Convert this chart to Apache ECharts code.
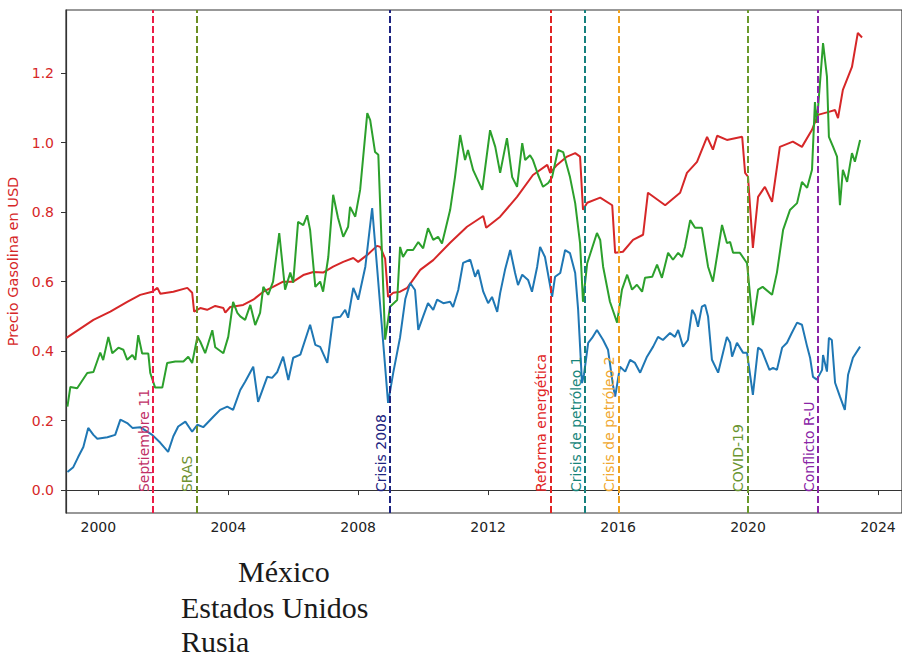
<!DOCTYPE html>
<html>
<head>
<meta charset="utf-8">
<script src="https://cdn.jsdelivr.net/npm/echarts@6/dist/echarts.min.js"></script>
<style>
  html, body { margin: 0; padding: 0; background: #ffffff; }
  #chart { width: 902px; height: 658px; }
</style>
</head>
<body>
<div id="chart"></div>
<script>
// ---------- DATA ----------
const seriesNames = ['México', 'Estados Unidos', 'Rusia'];

const mexico = [[1999.02,.438],[1999.85,.490],[2000.37,.514],[2000.89,.542],[2001.29,.562],[2001.66,.571],[2001.82,.582],[2001.91,.565],[2002.31,.571],[2002.74,.582],[2002.89,.568],[2002.95,.514],[2003.14,.524],[2003.35,.519],[2003.60,.530],[2003.85,.524],[2003.91,.511],[2004.06,.527],[2004.46,.533],[2004.77,.548],[2005.08,.571],[2005.38,.585],[2005.69,.600],[2006.00,.600],[2006.31,.619],[2006.62,.628],[2006.92,.626],[2007.23,.643],[2007.54,.657],[2007.85,.668],[2008.00,.657],[2008.28,.677],[2008.58,.703],[2008.68,.700],[2008.83,.666],[2008.92,.556],[2009.08,.568],[2009.29,.571],[2009.51,.582],[2009.91,.634],[2010.31,.662],[2010.83,.712],[2011.35,.758],[2011.85,.789],[2011.94,.755],[2012.37,.787],[2012.89,.844],[2013.38,.907],[2013.82,.936],[2013.91,.913],[2014.12,.936],[2014.43,.960],[2014.68,.970],[2014.83,.960],[2014.92,.807],[2015.05,.827],[2015.45,.842],[2015.82,.820],[2015.91,.683],[2016.15,.686],[2016.46,.720],[2016.77,.735],[2016.92,.856],[2017.45,.820],[2017.91,.856],[2018.12,.913],[2018.43,.945],[2018.74,1.017],[2018.92,.980],[2019.05,1.020],[2019.35,1.008],[2019.82,1.017],[2019.91,.913],[2020.00,.902],[2020.15,.697],[2020.31,.844],[2020.52,.873],[2020.74,.830],[2020.98,.988],[2021.38,1.003],[2021.66,.988],[2021.97,1.037],[2022.15,1.080],[2022.46,1.088],[2022.68,1.094],[2022.77,1.071],[2022.92,1.152],[2023.20,1.218],[2023.38,1.316],[2023.51,1.303]];

const estadosUnidos = [[1999.05,.240],[1999.14,.297],[1999.35,.293],[1999.66,.337],[1999.85,.340],[2000.06,.396],[2000.15,.374],[2000.31,.441],[2000.43,.394],[2000.62,.410],[2000.77,.404],[2000.89,.375],[2001.05,.389],[2001.14,.375],[2001.23,.446],[2001.35,.393],[2001.54,.393],[2001.60,.337],[2001.75,.295],[2001.97,.295],[2002.12,.366],[2002.37,.370],[2002.62,.370],[2002.77,.384],[2002.89,.366],[2003.05,.441],[2003.14,.427],[2003.29,.394],[2003.51,.460],[2003.60,.411],[2003.85,.394],[2004.00,.441],[2004.15,.542],[2004.28,.510],[2004.37,.500],[2004.52,.490],[2004.68,.533],[2004.83,.475],[2004.98,.510],[2005.08,.585],[2005.23,.562],[2005.38,.600],[2005.57,.740],[2005.75,.577],[2005.91,.626],[2006.00,.597],[2006.15,.772],[2006.31,.763],[2006.43,.791],[2006.52,.749],[2006.68,.585],[2006.83,.600],[2006.92,.571],[2007.08,.671],[2007.23,.850],[2007.38,.783],[2007.54,.729],[2007.69,.758],[2007.75,.815],[2007.91,.787],[2008.06,.864],[2008.28,1.085],[2008.37,1.065],[2008.52,.973],[2008.62,.965],[2008.83,.433],[2008.98,.528],[2009.20,.547],[2009.29,.700],[2009.38,.671],[2009.51,.691],[2009.69,.691],[2009.85,.714],[2010.00,.696],[2010.15,.754],[2010.31,.720],[2010.46,.729],[2010.58,.710],[2010.68,.748],[2010.83,.806],[2010.98,.901],[2011.14,1.022],[2011.29,.950],[2011.38,.979],[2011.54,.921],[2011.82,.864],[2012.06,1.036],[2012.22,.988],[2012.37,.913],[2012.58,1.013],[2012.74,.901],[2012.89,.873],[2013.05,.999],[2013.14,.950],[2013.29,.964],[2013.38,.950],[2013.54,.907],[2013.69,.873],[2013.85,.884],[2013.97,.901],[2014.15,.979],[2014.31,.973],[2014.52,.901],[2014.68,.826],[2014.83,.711],[2014.92,.542],[2015.05,.653],[2015.35,.740],[2015.45,.720],[2015.54,.643],[2015.75,.542],[2015.97,.482],[2016.12,.577],[2016.28,.620],[2016.43,.577],[2016.58,.591],[2016.74,.571],[2016.83,.611],[2017.05,.614],[2017.20,.649],[2017.35,.611],[2017.54,.683],[2017.69,.663],[2017.85,.683],[2017.97,.671],[2018.06,.700],[2018.22,.777],[2018.37,.755],[2018.58,.755],[2018.77,.643],[2018.92,.600],[2019.20,.763],[2019.35,.711],[2019.45,.714],[2019.54,.683],[2019.75,.683],[2019.97,.653],[2020.15,.475],[2020.31,.577],[2020.45,.585],[2020.74,.562],[2020.89,.626],[2021.08,.749],[2021.29,.806],[2021.51,.826],[2021.66,.887],[2021.82,.870],[2021.97,.922],[2022.06,1.117],[2022.12,1.057],[2022.31,1.287],[2022.43,1.190],[2022.49,1.017],[2022.62,.988],[2022.74,.960],[2022.83,.820],[2022.92,.922],[2023.05,.887],[2023.20,.970],[2023.29,.945],[2023.45,1.008]];

const rusia = [[1999.05,.052],[1999.23,.066],[1999.38,.095],[1999.54,.124],[1999.69,.179],[1999.85,.159],[1999.97,.148],[2000.28,.152],[2000.52,.159],[2000.68,.203],[2000.89,.193],[2001.05,.179],[2001.29,.181],[2001.66,.159],[2001.91,.136],[2002.15,.110],[2002.31,.155],[2002.46,.183],[2002.68,.197],[2002.89,.168],[2003.05,.188],[2003.23,.181],[2003.54,.211],[2003.75,.231],[2003.97,.240],[2004.15,.231],[2004.37,.288],[2004.52,.312],[2004.77,.355],[2004.92,.254],[2005.20,.326],[2005.35,.323],[2005.51,.340],[2005.69,.384],[2005.85,.317],[2006.00,.381],[2006.22,.390],[2006.52,.476],[2006.68,.418],[2006.83,.412],[2007.05,.366],[2007.23,.496],[2007.45,.499],[2007.60,.519],[2007.69,.496],[2007.85,.582],[2008.00,.548],[2008.22,.643],[2008.43,.812],[2008.58,.643],[2008.77,.424],[2008.92,.251],[2009.08,.338],[2009.29,.440],[2009.45,.550],[2009.60,.596],[2009.75,.576],[2009.85,.461],[2010.00,.500],[2010.15,.538],[2010.31,.519],[2010.43,.548],[2010.62,.538],[2010.83,.542],[2010.92,.527],[2011.08,.576],[2011.23,.654],[2011.45,.663],[2011.60,.614],[2011.69,.634],[2011.85,.571],[2012.00,.538],[2012.12,.556],[2012.28,.513],[2012.37,.567],[2012.52,.634],[2012.68,.691],[2012.83,.625],[2012.92,.590],[2013.05,.620],[2013.23,.605],[2013.35,.571],[2013.51,.643],[2013.60,.700],[2013.75,.671],[2013.97,.556],[2014.06,.614],[2014.22,.625],[2014.37,.691],[2014.52,.682],[2014.68,.625],[2014.77,.520],[2014.89,.308],[2014.95,.332],[2015.08,.424],[2015.20,.438],[2015.35,.461],[2015.54,.432],[2015.69,.404],[2015.85,.298],[2015.91,.269],[2016.06,.355],[2016.22,.341],[2016.37,.375],[2016.52,.366],[2016.68,.338],[2016.89,.384],[2017.08,.413],[2017.23,.441],[2017.38,.432],[2017.60,.452],[2017.75,.441],[2017.85,.461],[2018.00,.413],[2018.15,.432],[2018.28,.519],[2018.37,.504],[2018.46,.470],[2018.58,.528],[2018.68,.533],[2018.77,.500],[2018.89,.375],[2019.08,.338],[2019.23,.395],[2019.35,.441],[2019.45,.424],[2019.51,.384],[2019.66,.424],[2019.85,.395],[2019.97,.395],[2020.15,.274],[2020.31,.410],[2020.42,.403],[2020.66,.346],[2020.77,.352],[2020.89,.346],[2021.05,.410],[2021.20,.424],[2021.35,.453],[2021.51,.482],[2021.66,.476],[2021.82,.413],[2021.91,.381],[2022.00,.326],[2022.12,.318],[2022.28,.346],[2022.31,.389],[2022.43,.341],[2022.49,.438],[2022.58,.432],[2022.68,.309],[2022.83,.269],[2022.98,.231],[2023.08,.332],[2023.23,.381],[2023.45,.413]];

const eventNames = ['Septiembre 11', 'SRAS', 'Crisis 2008', 'Reforma energética', 'Crisis de petróleo 1', 'Crisis de petróleo 2', 'COVID-19', 'Conflicto R-U'];
const eventYears = [2001.67, 2003.02, 2008.98, 2013.92, 2014.98, 2016.01, 2019.98, 2022.15];

const xTicks = [2000, 2004, 2008, 2012, 2016, 2020, 2024];
const yTicks = [0.0, 0.2, 0.4, 0.6, 0.8, 1.0, 1.2];
const yAxisTitle = 'Precio Gasolina en USD';

// ---------- STYLES ----------
const seriesColors = ['#d62728', '#2ca02c', '#1f77b4'];
const eventLineColors = ['#ec1c45', '#6b8e23', '#1c2380', '#e02424', '#15807e', '#f0a21e', '#6b9a2c', '#8a24a6'];
const eventTextColors = ['#c02f66', '#6f9232', '#1c2380', '#e02424', '#16857a', '#f0a830', '#6a9530', '#8a24a6'];
const SANS = '"DejaVu Sans", sans-serif';
const SERIF = '30px "Liberation Serif", serif';

const chart = echarts.init(document.getElementById('chart'), null, { renderer: 'svg' });

const lineSeries = [mexico, estadosUnidos, rusia].map((d, i) => ({
  name: seriesNames[i],
  type: 'line',
  data: d,
  showSymbol: false,
  symbol: 'none',
  lineStyle: { color: seriesColors[i], width: 2 },
  itemStyle: { color: seriesColors[i] },
  z: 2,
  silent: true,
  animation: false
}));

const eventLineSeries = {
  type: 'line',
  data: [],
  silent: true,
  animation: false,
  z: 5,
  markLine: {
    silent: true,
    animation: false,
    symbol: ['none', 'none'],
    label: { show: false },
    data: eventYears.map((y, i) => ({
      xAxis: y,
      lineStyle: { color: eventLineColors[i], type: [7, 3], width: 2 }
    }))
  }
};

const eventLabelSeries = {
  type: 'scatter',
  symbolSize: 0,
  silent: true,
  animation: false,
  z: 6,
  itemStyle: { opacity: 1 },
  data: eventYears.map((y, i) => ({
    value: [y, 0],
    name: eventNames[i],
    label: { color: eventTextColors[i] }
  })),
  label: {
    show: true,
    opacity: 1,
    formatter: '{b}',
    position: [0, 0],
    rotate: 90,
    align: 'left',
    verticalAlign: 'bottom',
    offset: [-2, -2],
    fontFamily: SANS,
    fontSize: 14
  }
};

chart.setOption({
  backgroundColor: '#ffffff',
  animation: false,
  grid: {
    left: 66, top: 10, right: 0, bottom: 145,
    containLabel: false,
    outerBoundsMode: 'none',
    show: true, borderColor: '#333333', borderWidth: 1.2, backgroundColor: 'transparent'
  },
  xAxis: {
    type: 'value',
    min: 1999.006,
    max: 2024.74,
    axisLine: { show: true, lineStyle: { color: '#333333', width: 1.2 } },
    axisTick: { show: true, customValues: xTicks, length: 5, lineStyle: { color: '#333333' } },
    axisLabel: { customValues: xTicks, color: '#222222', fontFamily: SANS, fontSize: 14, margin: 7, formatter: v => String(v) },
    splitLine: { show: false }
  },
  yAxis: {
    type: 'value',
    min: -0.066,
    max: 1.382,
    name: yAxisTitle,
    nameLocation: 'middle',
    nameGap: 44,
    nameRotate: 90,
    nameTextStyle: { color: '#d62728', fontFamily: SANS, fontSize: 14.5 },
    axisLine: { show: true, lineStyle: { color: '#333333', width: 1.2 } },
    axisTick: { show: true, customValues: yTicks, length: 5, lineStyle: { color: '#333333' } },
    axisLabel: { customValues: yTicks, color: '#d62728', fontFamily: SANS, fontSize: 14, margin: 12, formatter: v => v.toFixed(1) },
    splitLine: { show: false }
  },
  graphic: [
    { type: 'text', left: 238, top: 556, style: { text: seriesNames[0], font: SERIF, fill: '#1a1a1a' } },
    { type: 'text', left: 181, top: 592, style: { text: seriesNames[1], font: SERIF, fill: '#1a1a1a' } },
    { type: 'text', left: 181, top: 626, style: { text: seriesNames[2], font: SERIF, fill: '#1a1a1a' } }
  ],
  series: [...lineSeries, eventLineSeries, eventLabelSeries]
});
</script>
</body>
</html>
